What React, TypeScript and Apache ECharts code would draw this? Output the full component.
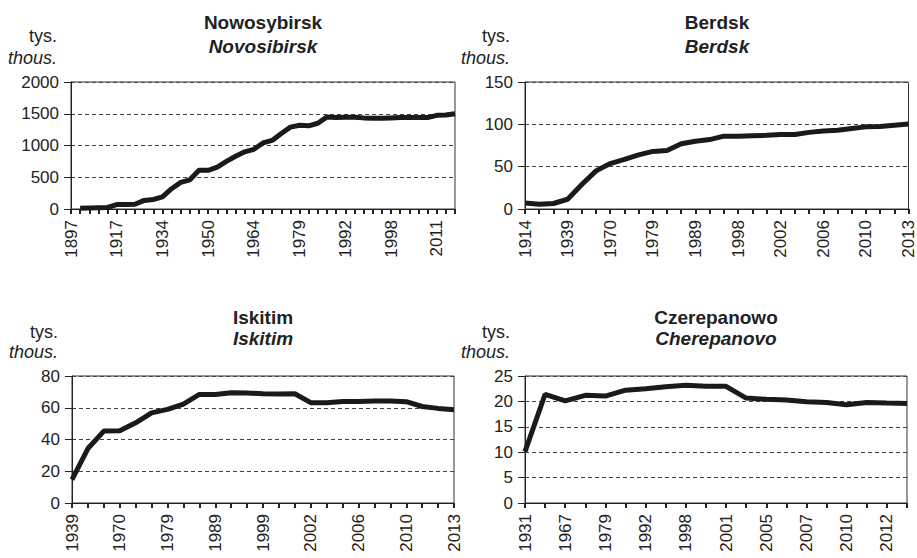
import React, { useEffect, useRef } from "react";
import * as echarts from "echarts";

// Nowosybirsk / Novosibirsk (thousands)
const nskYears = ["1897","1901","1904","1909","1912","1917","1920","1923","1926","1931","1934","1937","1939","1943","1946","1950","1953","1956","1959","1962","1964","1967","1970","1973","1976","1979","1982","1985","1987","1989","1992","1993","1994","1995","1996","1998","1999","2002","2005","2009","2011","2012","2013"];
const nskValues = [null,10,15,20,25,70,70,75,135,150,190,320,420,460,610,610,660,750,830,900,940,1040,1080,1190,1290,1320,1310,1350,1450,1440,1445,1445,1435,1430,1430,1435,1440,1440,1440,1440,1475,1480,1500];

// Berdsk
const berYears = ["1914","1923","1926","1939","1959","1965","1970","1973","1976","1979","1982","1985","1989","1992","1995","1998","1999","2001","2002","2003","2004","2006","2007","2008","2010","2011","2012","2013"];
const berValues = [7,5.5,6.5,11.5,29,45,53.7,58.5,64,68,69,77,80,82,86,86,86.5,87,88,88,90.5,92,93,95,97,97.5,99,100.5];

// Iskitim
const iskYears = ["1939","1959","1965","1970","1973","1976","1979","1982","1985","1989","1992","1995","1999","2000","2001","2002","2003","2004","2006","2007","2008","2010","2011","2012","2013"];
const iskValues = [14.7,34.3,45.3,45.5,50.5,56.8,59,62.3,68.4,68.4,69.5,69.3,68.8,68.6,68.8,63.2,63.2,64,64,64.2,64.2,63.8,60.8,59.6,58.7];

// Czerepanowo / Cherepanovo
const cheYears = ["1931","1959","1967","1970","1979","1989","1992","1996","1998","1999","2001","2002","2005","2006","2007","2008","2010","2011","2012","2013"];
const cheValues = [10.1,21.4,20.1,21.2,21.05,22.2,22.5,22.9,23.2,23.0,22.96,20.66,20.4,20.26,19.93,19.8,19.34,19.8,19.67,19.6];

const titlesPl = ["Nowosybirsk", "Berdsk", "Iskitim", "Czerepanowo"];
const titlesEn = ["Novosibirsk", "Berdsk", "Iskitim", "Cherepanovo"];
const yMax = [2000, 150, 80, 25];
const yStep = [500, 50, 20, 5];
const labelEvery = [4, 2, 2, 1];

const FONT = "Liberation Sans, Arial, sans-serif";
const TXT = "#222";

const panels = [
  { years: nskYears, values: nskValues, left: 71, top: 82, width: 384, unitRight: 57 },
  { years: berYears, values: berValues, left: 525, top: 82, width: 384, unitRight: 510 },
  { years: iskYears, values: iskValues, left: 72, top: 376, width: 382, unitRight: 58 },
  { years: cheYears, values: cheValues, left: 525, top: 376, width: 382, unitRight: 510 },
];

export default function App() {
  const ref = useRef<HTMLDivElement>(null);
  useEffect(() => {
    if (!ref.current) return;
    const chart = echarts.init(ref.current, null, { renderer: "svg" });
    const H = 127;
    const grid = panels.map((p) => ({
      left: p.left,
      top: p.top,
      width: p.width,
      height: H,
      show: true,
      borderColor: "#333",
      borderWidth: 1,
      backgroundColor: "transparent",
      containLabel: false,
    }));
    const xAxis = panels.map((p, i) => ({
      type: "category",
      gridIndex: i,
      data: p.years,
      boundaryGap: false,
      axisLine: { show: true, lineStyle: { color: "#222", width: 1 } },
      axisTick: { show: true, interval: 0, length: 5, lineStyle: { color: "#222", width: 2 } },
      axisLabel: {
        interval: labelEvery[i],
        rotate: 90,
        margin: 11,
        fontSize: 17,
        color: TXT,
        fontFamily: FONT,
      },
      splitLine: { show: false },
    }));
    const yAxis = panels.map((p, i) => ({
      type: "value",
      gridIndex: i,
      min: 0,
      max: yMax[i],
      interval: yStep[i],
      axisLine: { show: true, lineStyle: { color: "#222", width: 1 } },
      axisTick: { show: true, length: 7, lineStyle: { color: "#222", width: 1 } },
      axisLabel: { fontSize: 17, color: TXT, fontFamily: FONT, margin: 12, formatter: (v: number) => String(v) },
      splitLine: { show: true, lineStyle: { color: "#444", width: 1, type: [4, 3] } },
    }));
    const series = panels.map((p, i) => ({
      type: "line",
      xAxisIndex: i,
      yAxisIndex: i,
      data: p.values,
      symbol: "none",
      lineStyle: { color: "#1a1a1a", width: 5 },
      z: 5,
    }));
    const graphic: any[] = [];
    panels.forEach((p, i) => {
      const cx = p.left + p.width / 2;
      const isTop = i < 2;
      graphic.push({
        type: "text",
        x: cx,
        y: isTop ? 22 : 317,
        style: { text: titlesPl[i], fontSize: 19, fontWeight: "bold", fontFamily: FONT, fill: TXT, textAlign: "center", textVerticalAlign: "middle" },
      });
      graphic.push({
        type: "text",
        x: cx,
        y: isTop ? 46 : 338,
        style: { text: titlesEn[i], fontSize: 19, fontWeight: "bold", fontStyle: "italic", fontFamily: FONT, fill: TXT, textAlign: "center", textVerticalAlign: "middle" },
      });
      graphic.push({
        type: "text",
        x: p.unitRight,
        y: isTop ? 36 : 332,
        style: { text: "tys.", fontSize: 18, fontFamily: FONT, fill: TXT, textAlign: "right", textVerticalAlign: "middle" },
      });
      graphic.push({
        type: "text",
        x: p.unitRight,
        y: isTop ? 58 : 352,
        style: { text: "thous.", fontSize: 18, fontStyle: "italic", fontFamily: FONT, fill: TXT, textAlign: "right", textVerticalAlign: "middle" },
      });
    });
    chart.setOption({
      animation: false,
      backgroundColor: "#fff",
      grid,
      xAxis,
      yAxis,
      series,
      graphic,
    });
    return () => chart.dispose();
  }, []);
  return <div ref={ref} style={{ position: "absolute", left: 0, top: 0, width: 917, height: 558 }} />;
}
